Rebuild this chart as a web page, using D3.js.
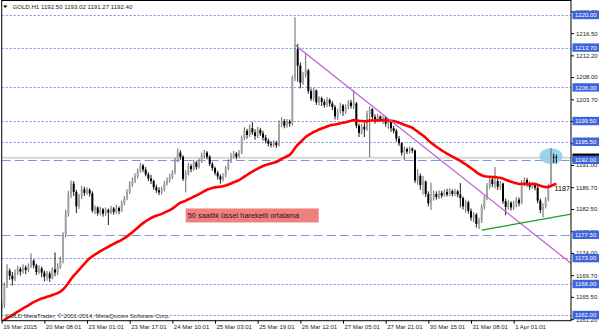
<!DOCTYPE html>
<html>
<head>
<meta charset="utf-8">
<script src="https://cdn.jsdelivr.net/npm/d3@7"></script>
<style>
body { margin: 0; background: #fff; }
svg { display: block; font-family: "Liberation Sans", Arial, sans-serif; }
</style>
</head>
<body>
<div id="app"></div>
<script>
// GOLD H1, 209 bars
const headerText = 'GOLD,H1  1192.50 1193.02 1191.27 1192.40';
const firstOpen = 1163.2;

const closes = [
  1164.0, 1167.8, 1170.6, 1169.6, 1168.9, 1170.2, 1170.9, 1170.4, 1171.2, 1170.7,
  1171.4, 1172.5, 1171.6, 1170.3, 1171.0, 1170.2, 1169.4, 1170.0, 1169.1, 1170.8,
  1170.2, 1171.3, 1172.6, 1177.6, 1181.6, 1185.3, 1187.4, 1185.8, 1183.0, 1184.9,
  1186.3, 1185.6, 1186.2, 1185.5, 1182.2, 1182.8, 1181.7, 1182.4, 1181.6, 1182.3,
  1181.8, 1182.6, 1181.9, 1182.7, 1182.1, 1183.6, 1184.5, 1185.8, 1187.2, 1187.9,
  1188.9, 1189.8, 1190.9, 1190.1, 1189.2, 1188.4, 1187.9, 1186.7, 1186.1, 1185.7,
  1186.3, 1187.4, 1188.1, 1188.7, 1189.6, 1191.9, 1193.4, 1192.6, 1188.3, 1189.4,
  1190.8, 1190.2, 1191.5, 1190.6, 1191.7, 1192.8, 1193.4, 1192.6, 1191.2, 1190.4,
  1189.5, 1188.8, 1188.2, 1188.9, 1190.3, 1191.6, 1192.7, 1193.2, 1192.6, 1193.4,
  1196.2, 1197.6, 1196.8, 1198.1, 1197.3, 1196.6, 1197.8, 1197.1, 1196.3, 1195.7,
  1195.1, 1194.9, 1195.3, 1194.8, 1198.9, 1199.5, 1198.6, 1199.4, 1199.0, 1207.8,
  1213.4, 1210.2, 1206.9, 1208.4, 1209.3, 1205.3, 1203.8, 1205.4, 1203.1, 1203.9,
  1203.2, 1202.6, 1203.6, 1202.9, 1202.2, 1200.4, 1201.3, 1202.5, 1201.4, 1202.2,
  1203.1, 1202.4, 1202.9, 1198.6, 1197.2, 1198.4, 1197.9, 1200.9, 1201.8, 1200.3,
  1199.6, 1200.4, 1199.7, 1200.2, 1199.0, 1199.3, 1198.1, 1197.6, 1196.1, 1195.2,
  1193.4, 1194.1, 1193.6, 1194.2, 1193.8, 1188.0, 1188.9, 1187.1, 1187.8, 1185.4,
  1183.6, 1184.6, 1185.4, 1184.8, 1185.6, 1185.1, 1185.8, 1185.3, 1186.0, 1185.4,
  1185.9, 1185.3, 1184.6, 1183.0, 1183.8, 1182.1, 1180.8, 1181.4, 1179.6, 1180.3,
  1182.9, 1184.6, 1186.9, 1188.2, 1187.3, 1187.9, 1186.8, 1187.4, 1184.0, 1182.9,
  1183.7, 1182.8, 1183.5, 1184.3, 1183.6, 1187.6, 1188.1, 1187.4, 1186.8, 1187.3,
  1186.6, 1184.1, 1182.3, 1182.9, 1184.3, 1186.9, 1192.6, 1192.5, 1192.4
];

const highs = [
  1164.8, 1168.3, 1171.8, 1171.0, 1170.3, 1170.8, 1171.5, 1171.3, 1171.8, 1171.6,
  1172.0, 1173.9, 1172.8, 1171.9, 1171.6, 1171.4, 1170.6, 1170.5, 1170.4, 1171.2,
  1174.1, 1172.0, 1173.3, 1178.0, 1182.4, 1186.0, 1188.0, 1187.9, 1186.2, 1185.4,
  1187.0, 1186.8, 1186.7, 1186.5, 1185.9, 1183.2, 1183.0, 1182.9, 1182.7, 1182.8,
  1182.6, 1183.1, 1182.9, 1183.3, 1183.0, 1184.1, 1185.0, 1186.3, 1187.8, 1188.6,
  1189.4, 1190.3, 1191.4, 1191.2, 1190.6, 1189.6, 1189.1, 1188.2, 1187.2, 1186.7,
  1186.8, 1187.9, 1188.6, 1189.3, 1190.0, 1192.4, 1194.2, 1193.9, 1192.9, 1190.0,
  1191.4, 1191.2, 1192.0, 1191.8, 1192.3, 1193.4, 1193.9, 1193.7, 1192.9, 1191.6,
  1190.7, 1189.9, 1189.2, 1189.4, 1190.8, 1192.1, 1193.3, 1193.7, 1193.5, 1193.9,
  1196.7, 1198.3, 1198.0, 1198.8, 1199.3, 1197.9, 1198.4, 1198.2, 1197.6, 1196.8,
  1196.1, 1195.6, 1195.8, 1195.7, 1199.6, 1200.2, 1199.9, 1199.9, 1199.8, 1208.3,
  1219.6, 1214.4, 1210.8, 1209.0, 1212.6, 1209.6, 1205.8, 1205.9, 1205.6, 1204.3,
  1204.2, 1203.7, 1204.1, 1203.9, 1203.3, 1202.6, 1201.9, 1203.0, 1202.8, 1202.7,
  1203.5, 1203.6, 1205.5, 1203.2, 1199.0, 1198.9, 1199.1, 1201.5, 1202.3, 1202.0,
  1200.8, 1200.9, 1200.6, 1200.6, 1200.4, 1199.8, 1199.6, 1198.6, 1198.0, 1196.6,
  1195.4, 1194.6, 1194.4, 1194.6, 1194.4, 1194.0, 1190.2, 1189.4, 1188.9, 1188.0,
  1185.9, 1187.6, 1186.0, 1185.9, 1186.1, 1186.0, 1186.3, 1186.4, 1186.5, 1186.3,
  1186.4, 1186.2, 1187.5, 1184.9, 1184.3, 1184.1, 1182.6, 1181.9, 1181.7, 1180.8,
  1183.4, 1185.1, 1187.5, 1188.7, 1188.6, 1190.6, 1188.3, 1187.9, 1187.6, 1184.5,
  1184.2, 1184.0, 1184.1, 1184.8, 1184.7, 1188.1, 1188.6, 1188.5, 1187.8, 1187.7,
  1187.6, 1186.9, 1184.5, 1183.6, 1184.8, 1187.4, 1194.3, 1193.2, 1193.02
];

const lows = [
  1162.3, 1163.4, 1167.2, 1168.8, 1167.7, 1168.5, 1169.8, 1169.6, 1170.0, 1169.9,
  1170.3, 1171.1, 1171.0, 1169.7, 1169.9, 1169.3, 1168.5, 1168.6, 1168.4, 1168.9,
  1169.5, 1169.7, 1170.9, 1172.0, 1177.0, 1181.0, 1184.6, 1185.0, 1181.7, 1182.5,
  1184.4, 1185.0, 1185.2, 1184.9, 1181.8, 1181.5, 1181.2, 1181.3, 1181.0, 1181.2,
  1179.4, 1181.5, 1181.4, 1181.6, 1181.5, 1181.9, 1183.2, 1184.2, 1185.4, 1186.8,
  1187.5, 1188.4, 1189.5, 1189.6, 1188.8, 1187.9, 1187.3, 1186.2, 1185.6, 1185.2,
  1185.3, 1185.9, 1187.0, 1187.6, 1188.3, 1189.2, 1191.5, 1192.0, 1187.9, 1185.7,
  1189.0, 1189.6, 1189.9, 1190.1, 1190.3, 1191.4, 1192.3, 1192.1, 1190.8, 1189.9,
  1189.0, 1188.2, 1187.4, 1187.8, 1188.6, 1190.0, 1191.4, 1192.3, 1192.1, 1192.4,
  1193.1, 1195.8, 1196.1, 1196.4, 1196.8, 1195.9, 1196.2, 1196.6, 1195.7, 1195.2,
  1194.6, 1194.4, 1194.5, 1194.3, 1194.6, 1198.3, 1198.1, 1198.2, 1198.4, 1198.6,
  1207.2, 1207.1, 1205.8, 1206.5, 1207.9, 1204.8, 1203.4, 1203.3, 1202.6, 1202.5,
  1202.4, 1202.1, 1202.2, 1202.3, 1201.6, 1199.8, 1199.7, 1200.9, 1200.5, 1200.9,
  1201.8, 1201.9, 1201.8, 1198.1, 1196.4, 1196.9, 1196.4, 1197.6, 1192.5, 1199.8,
  1199.0, 1199.2, 1199.3, 1198.9, 1198.4, 1198.0, 1197.4, 1197.1, 1195.5, 1194.7,
  1192.8, 1191.9, 1193.1, 1193.2, 1193.3, 1187.5, 1187.2, 1186.2, 1185.3, 1184.8,
  1183.0, 1182.3, 1184.1, 1184.3, 1184.4, 1184.6, 1184.9, 1184.9, 1185.0, 1184.9,
  1185.0, 1184.8, 1182.8, 1182.4, 1181.8, 1181.6, 1180.2, 1179.9, 1178.9, 1178.6,
  1179.8, 1182.4, 1184.2, 1186.4, 1186.7, 1186.5, 1186.2, 1186.2, 1183.5, 1181.3,
  1182.4, 1182.2, 1182.3, 1182.8, 1183.0, 1183.4, 1186.9, 1186.8, 1186.2, 1186.4,
  1186.1, 1183.6, 1181.7, 1180.9, 1182.6, 1184.0, 1186.6, 1191.4, 1191.27
];

const emaPeriod = 50;
const emaStart = 1160.6;   // MA value just before the first visible bar

const priceTicks = [1220.70, 1216.50, 1212.20, 1208.00, 1203.70, 1199.50, 1195.20,
  1191.00, 1186.70, 1182.50, 1178.20, 1174.00, 1169.70, 1165.50, 1161.20];
const timeLabels = ['19 Mar 2015', '20 Mar 08:01', '23 Mar 01:01', '23 Mar 17:01',
  '24 Mar 10:01', '25 Mar 03:01', '25 Mar 19:01', '26 Mar 12:01', '27 Mar 05:01',
  '27 Mar 21:01', '30 Mar 15:01', '31 Mar 08:01', '1 Apr 01:01'];
const barsPerLabel = 16;

const dottedLevels = [1220.00, 1213.70, 1206.00, 1199.50, 1195.50, 1173.00, 1168.00, 1162.00];
const dashedLevels = [1192.00, 1177.50];
const bidPrice = 1192.40;

const downTrend = [[110, 1214.2], [213.5, 1172.0]];
const upTrend = [[180, 1178.4], [213.5, 1181.5]];
const markBar = 206, markPrice = 1192.7;
const noteBar = 69, notePrice = 1182.6;
const noteText = '50 saatlik üssel hareketli ortalama';
const maTextBar = 207.3, maTextPrice = 1186.5, maText = '1187.05';
const copyright = 'GOLD MetaTrader, © 2001-2014, MetaQuotes Software Corp.';

const W = 600, H = 333;
const plotL = 1.7, plotR = 571, plotT = 0.5, plotB = 320.7;

const svg = d3.select('#app').append('svg')
  .attr('width', W).attr('height', H);

const x = d3.scaleLinear().domain([0, 213.5]).range([plotL, plotR]);
const y = d3.scaleLinear().domain([1160.9, 1222.9]).range([plotB, 0]);

svg.append('defs').append('clipPath').attr('id', 'plot')
  .append('rect').attr('x', plotL).attr('y', plotT)
  .attr('width', plotR - plotL).attr('height', plotB - plotT);

const plot = svg.append('g').attr('clip-path', 'url(#plot)');

// level lines
plot.selectAll('.dot').data(dottedLevels).enter().append('line')
  .attr('x1', plotL).attr('x2', plotR)
  .attr('y1', d => Math.round(y(d)) + 0.5).attr('y2', d => Math.round(y(d)) + 0.5)
  .attr('stroke', '#6f90e4').attr('stroke-dasharray', '2,2');

plot.append('line')
  .attr('x1', plotL).attr('x2', plotR)
  .attr('y1', y(bidPrice)).attr('y2', y(bidPrice))
  .attr('stroke', '#d8d8d8').attr('stroke-width', 2);

plot.selectAll('.dash').data(dashedLevels).enter().append('line')
  .attr('x1', plotL).attr('x2', plotR)
  .attr('y1', d => Math.round(y(d)) + 0.5).attr('y2', d => Math.round(y(d)) + 0.5)
  .attr('stroke', '#7b98e2').attr('stroke-dasharray', '9,4');

// highlight ellipse
plot.append('ellipse')
  .attr('cx', x(markBar)).attr('cy', y(markPrice))
  .attr('rx', 11.5).attr('ry', 8)
  .attr('fill', '#87ceeb').attr('opacity', 0.85);

// candles
const bars = closes.map((c, i) => ({
  i: i,
  o: i === 0 ? firstOpen : closes[i - 1],
  h: highs[i], l: lows[i], c: c
}));

const candle = plot.selectAll('.candle').data(bars).enter().append('g');
candle.append('line')
  .attr('x1', d => x(d.i)).attr('x2', d => x(d.i))
  .attr('y1', d => y(d.h)).attr('y2', d => y(d.l))
  .attr('stroke', d => d.c >= d.o ? '#555' : '#000')
  .attr('stroke-width', 0.9);
candle.append('rect')
  .attr('x', d => x(d.i) - 1).attr('width', 2)
  .attr('y', d => y(Math.max(d.o, d.c)))
  .attr('height', d => Math.max(0.8, Math.abs(y(d.o) - y(d.c))))
  .attr('fill', d => d.c >= d.o ? '#a2a2a2' : '#000');

// 50 EMA
let e = emaStart;
const k = 2 / (emaPeriod + 1);
const ema = closes.map(c => (e = e + k * (c - e)));

plot.append('path')
  .attr('d', d3.line().x((d, i) => x(i)).y(d => y(d))(ema))
  .attr('fill', 'none').attr('stroke', '#ff0000').attr('stroke-width', 2.6);

// trend lines
const tl = d3.line().x(d => x(d[0])).y(d => y(d[1]));
plot.append('path').attr('d', tl(downTrend))
  .attr('stroke', '#c25fd6').attr('stroke-width', 1.3).attr('fill', 'none');
plot.append('path').attr('d', tl(upTrend))
  .attr('stroke', '#1f9a1f').attr('stroke-width', 1.3).attr('fill', 'none');

// note
const note = plot.append('g')
  .attr('transform', 'translate(' + x(noteBar) + ',' + y(notePrice) + ')');
note.append('rect').attr('width', 133).attr('height', 14).attr('fill', '#f08080');
note.append('text').attr('x', 2).attr('y', 10)
  .attr('font-size', 7.4).attr('fill', '#2a1414').text(noteText);

plot.append('text')
  .attr('x', x(maTextBar)).attr('y', y(maTextPrice) + 2.5)
  .attr('font-size', 7.2).attr('fill', '#000').text(maText);

plot.append('text').attr('x', 5).attr('y', 317.5)
  .attr('font-size', 6).attr('fill', '#333').text(copyright);

// frame
svg.append('rect')
  .attr('x', plotL).attr('y', plotT)
  .attr('width', plotR - plotL).attr('height', plotB - plotT)
  .attr('fill', 'none').attr('stroke', '#000').attr('stroke-width', 1);

// header
svg.append('path').attr('d', 'M3,5.5L7.5,5.5L5.25,8Z').attr('fill', '#000');
svg.append('text').attr('x', 12.5).attr('y', 9)
  .attr('font-size', 6.1).attr('fill', '#222').text(headerText);

// price axis
const yAxis = d3.axisRight(y).tickValues(priceTicks)
  .tickFormat(d3.format('.2f')).tickSize(3).tickPadding(2);
const yg = svg.append('g').attr('transform', 'translate(' + plotR + ',0)').call(yAxis);
yg.select('.domain').remove();
yg.selectAll('text').attr('font-size', 6).attr('font-family', '"Liberation Sans", Arial, sans-serif').attr('fill', '#222');
yg.selectAll('line').attr('stroke', '#000');

// time axis
const xAxis = d3.axisBottom(x)
  .tickValues(timeLabels.map((t, i) => i * barsPerLabel))
  .tickFormat((d, i) => timeLabels[i]).tickSize(3).tickPadding(1);
const xg = svg.append('g').attr('transform', 'translate(0,' + plotB + ')').call(xAxis);
xg.select('.domain').remove();
xg.selectAll('text').attr('text-anchor', 'start').attr('dx', 1)
  .attr('font-size', 6).attr('font-family', '"Liberation Sans", Arial, sans-serif').attr('fill', '#222');
xg.selectAll('line').attr('stroke', '#000');

// price labels on the axis
function priceLabel(p, bg) {
  const g = svg.append('g').attr('transform', 'translate(' + (plotR + 1.5) + ',' + y(p) + ')');
  g.append('rect').attr('x', 0).attr('y', -4.2).attr('width', 26.5).attr('height', 8.4).attr('fill', bg);
  g.append('text').attr('x', 2.5).attr('y', 2.2).attr('font-size', 6)
    .attr('fill', '#fff').text(d3.format('.2f')(p));
}
priceLabel(bidPrice, '#000');
dottedLevels.concat(dashedLevels).forEach(p => priceLabel(p, '#3d63dd'));
</script>
</body>
</html>
